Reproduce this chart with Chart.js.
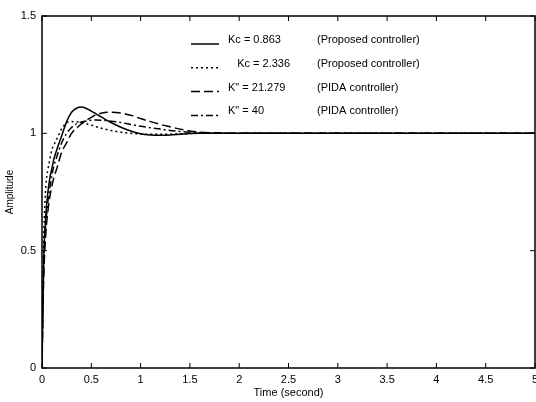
<!DOCTYPE html>
<html>
<head>
<meta charset="utf-8">
<script src="https://cdn.jsdelivr.net/npm/chart.js@4"></script>
<style>
    html, body { margin: 0; padding: 0; background: #fff; overflow: hidden; }
    #wrap { width: 536px; height: 402px; overflow: hidden; }
</style>
</head>
<body>
<div id="wrap"><canvas id="step" width="560" height="402"></canvas></div>
<script>
// step responses
const time = [0, 0.01, 0.02, 0.04, 0.06, 0.08, 0.1, 0.12, 0.15, 0.2, 0.25, 0.3, 0.35, 0.4, 0.45,
    0.5, 0.55, 0.6, 0.7, 0.8, 0.9, 1.0, 1.1, 1.2, 1.3, 1.4, 1.5, 1.6, 1.8, 2.0, 2.5, 3.0, 3.5, 4.0, 4.5, 5.0];

const kc0863 = [0, 0.30, 0.50, 0.66, 0.75, 0.81, 0.85, 0.89, 0.93, 0.99, 1.05, 1.09, 1.107, 1.112, 1.106,
    1.095, 1.082, 1.07, 1.046, 1.026, 1.01, 0.998, 0.993, 0.992, 0.993, 0.996, 0.999, 1.0, 1.001, 1.0, 1, 1, 1, 1, 1, 1];

const kc2336 = [0, 0.40, 0.60, 0.78, 0.845, 0.89, 0.93, 0.95, 0.975, 1.02, 1.045, 1.05, 1.049, 1.046, 1.041,
    1.035, 1.028, 1.022, 1.012, 1.005, 1.0, 0.997, 0.996, 0.996, 0.997, 0.998, 0.999, 1.0, 1.0, 1.0, 1, 1, 1, 1, 1, 1];

const pida21279 = [0, 0.25, 0.42, 0.58, 0.67, 0.73, 0.775, 0.81, 0.85, 0.92, 0.96, 1.0, 1.022, 1.04, 1.055,
    1.068, 1.08, 1.086, 1.09, 1.087, 1.077, 1.063, 1.05, 1.038, 1.028, 1.018, 1.01, 1.005, 1.001, 1.0, 1, 1, 1, 1, 1, 1];

const pida40 = [0, 0.30, 0.47, 0.62, 0.71, 0.77, 0.82, 0.86, 0.90, 0.96, 1.0, 1.025, 1.04, 1.048, 1.053,
    1.056, 1.057, 1.056, 1.052, 1.046, 1.038, 1.03, 1.024, 1.018, 1.012, 1.008, 1.005, 1.003, 1.001, 1.0, 1, 1, 1, 1, 1, 1];

const seriesLabels = ['Kc = 0.863', '   Kc = 2.336', 'K" = 21.279', 'K" = 40'];
const seriesNotes = ['(Proposed controller)', '(Proposed controller)', '(PIDA controller)', '(PIDA controller)'];
const dashes = [[], [2, 3], [9, 4], [7, 3, 2, 3]];

const FONT = '"Liberation Sans", Arial, sans-serif';

function toPoints(ys) {
    return time.map((t, i) => ({ x: t, y: ys[i] }));
}

// MATLAB style box with ticks pointing inward on all four sides
const boxTicks = {
    id: 'boxTicks',
    afterDatasetsDraw(chart) {
        const { ctx, chartArea: a, scales } = chart;
        const len = 5;
        ctx.save();
        ctx.strokeStyle = '#000';
        ctx.lineWidth = 1.5;
        ctx.strokeRect(a.left, a.top, a.right - a.left, a.bottom - a.top);
        ctx.lineWidth = 1;
        ctx.beginPath();
        scales.x.ticks.forEach(t => {
            const px = scales.x.getPixelForValue(t.value);
            ctx.moveTo(px, a.bottom); ctx.lineTo(px, a.bottom - len);
            ctx.moveTo(px, a.top); ctx.lineTo(px, a.top + len);
        });
        scales.y.ticks.forEach(t => {
            const py = scales.y.getPixelForValue(t.value);
            ctx.moveTo(a.left, py); ctx.lineTo(a.left + len, py);
            ctx.moveTo(a.right, py); ctx.lineTo(a.right - len, py);
        });
        ctx.stroke();
        ctx.restore();
    }
};

// legend drawn inside the axes, like the original figure
const boxLegend = {
    id: 'boxLegend',
    afterDraw(chart) {
        const { ctx, chartArea: a } = chart;
        ctx.save();
        ctx.font = '11px ' + FONT;
        ctx.fillStyle = '#000';
        ctx.textBaseline = 'middle';
        chart.data.datasets.forEach((ds, i) => {
            const y = a.top + 28 + i * 23.8;
            ctx.strokeStyle = '#000';
            ctx.lineWidth = 1.5;
            ctx.setLineDash(ds.borderDash);
            ctx.beginPath();
            ctx.moveTo(a.left + 149, y);
            ctx.lineTo(a.left + 177, y);
            ctx.stroke();
            ctx.setLineDash([]);
            ctx.fillText(ds.label, a.left + 186, y - 4);
            ctx.fillText(seriesNotes[i], a.left + 275, y - 4);
        });
        ctx.restore();
    }
};

const datasets = [kc0863, kc2336, pida21279, pida40].map((ys, i) => ({
    label: seriesLabels[i],
    data: toPoints(ys),
    borderColor: '#000',
    borderWidth: 1.5,
    borderDash: dashes[i],
    pointRadius: 0,
    fill: false,
    cubicInterpolationMode: 'monotone'
}));

const plainNumber = v => String(Math.round(v * 10) / 10);

new Chart(document.getElementById('step'), {
    type: 'line',
    data: { datasets: datasets },
    options: {
        responsive: false,
        devicePixelRatio: 1,
        animation: false,
        layout: { padding: { top: 16, right: 25, left: 0, bottom: 0 } },
        plugins: {
            legend: { display: false },
            tooltip: { enabled: false }
        },
        scales: {
            x: {
                type: 'linear',
                min: 0,
                max: 5,
                grid: { display: false, drawTicks: false },
                border: { display: false },
                ticks: {
                    stepSize: 0.5,
                    padding: 5,
                    color: '#000',
                    font: { family: FONT, size: 11 },
                    maxRotation: 0,
                    callback: plainNumber
                },
                title: {
                    display: true,
                    text: 'Time (second)',
                    color: '#000',
                    font: { family: FONT, size: 11 },
                    padding: { top: 0, bottom: 2 }
                },
                afterFit(scale) { scale.height = 34; }
            },
            y: {
                min: 0,
                max: 1.5,
                grid: { display: false, drawTicks: false },
                border: { display: false },
                ticks: {
                    stepSize: 0.5,
                    padding: 6,
                    color: '#000',
                    font: { family: FONT, size: 11 },
                    callback: plainNumber
                },
                title: {
                    display: true,
                    text: 'Amplitude',
                    color: '#000',
                    font: { family: FONT, size: 10 },
                    padding: { top: 4, bottom: 0 }
                },
                afterFit(scale) { scale.width = 42; }
            }
        }
    },
    plugins: [boxTicks, boxLegend]
});
</script>
</body>
</html>
